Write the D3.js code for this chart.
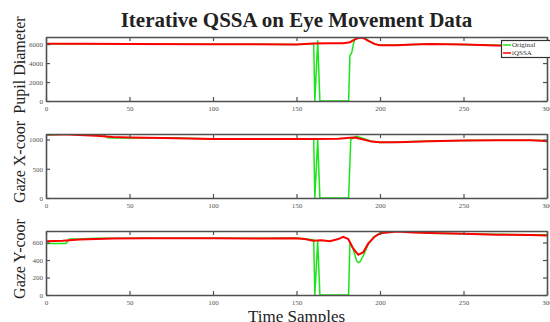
<!DOCTYPE html>
<html>
<head>
<meta charset="utf-8">
<script src="https://cdn.jsdelivr.net/npm/d3@7"></script>
<style>
  body { margin: 0; background: #fff; }
  svg { display: block; }
  .axis path, .axis line { stroke: #505050; }
  .axis text { fill: #555; }
  .Label { font-family: "Liberation Serif", serif; fill: #222; }
</style>
</head>
<body>
<div id="ChartContainer"></div>
<script>
// Pupil diameter
var pupilOrigT = [0, 30, 60, 100, 130, 150, 158, 160.3, 161, 162.7, 164, 181.2, 182, 183, 184.2, 185.5, 190, 193, 196, 200, 210, 230, 250, 270, 290, 300]
var pupilOrigV = [6040, 6020, 6010, 5980, 5980, 5970, 6050, 6050, 0, 6400, 0, 0, 4800, 5050, 6100, 6800, 6800, 6400, 6050, 5880, 5900, 6000, 5960, 5880, 5830, 5830]
var pupilQssaT = [0, 20, 50, 100, 150, 160, 170, 178, 182, 185, 188, 190, 193, 197, 200, 210, 220, 230, 240, 250, 260, 270, 280, 290, 300]
var pupilQssaV = [6040, 6030, 6010, 5980, 5970, 6060, 6090, 6100, 6200, 6500, 6680, 6650, 6350, 6000, 5880, 5880, 5950, 6000, 5990, 5950, 5900, 5850, 5830, 5820, 5830]

// Gaze X
var gazeXOrigT = [0, 10, 20, 34, 37, 40, 50, 60, 80, 100, 120, 150, 160.3, 161, 162.7, 164, 181.2, 182.5, 184, 186, 190, 195, 200, 210, 220, 230, 250, 270, 290, 297, 300]
var gazeXOrigV = [1080, 1090, 1090, 1090, 1030, 1025, 1025, 1030, 1025, 1010, 1010, 1005, 1010, 0, 1005, 0, 0, 1000, 1030, 1055, 1020, 970, 950, 955, 965, 975, 985, 990, 990, 985, 960]
var gazeXQssaT = [0, 10, 20, 30, 40, 50, 70, 100, 130, 160, 175, 182, 185, 190, 195, 200, 210, 230, 250, 270, 290, 300]
var gazeXQssaV = [1085, 1090, 1080, 1065, 1045, 1035, 1025, 1010, 1010, 1010, 1015, 1030, 1035, 1000, 965, 955, 955, 970, 985, 990, 990, 975]

// Gaze Y
var gazeYOrigT = [0, 12, 14, 20, 30, 50, 80, 100, 130, 150, 156, 160.3, 161, 162.7, 164, 181.2, 182, 184, 186, 187, 188, 190, 193, 196, 200, 205, 210, 215, 220, 230, 250, 270, 290, 300]
var gazeYOrigV = [590, 590, 640, 640, 648, 650, 648, 650, 648, 650, 640, 630, 0, 620, 0, 0, 600, 520, 390, 370, 380, 450, 580, 660, 710, 720, 735, 730, 720, 705, 700, 695, 690, 690]
var gazeYQssaT = [0, 10, 20, 40, 60, 100, 130, 150, 155, 160, 165, 170, 175, 178, 181, 184, 187, 190, 193, 197, 200, 210, 220, 230, 250, 270, 290, 300]
var gazeYQssaV = [615, 620, 635, 645, 650, 650, 645, 650, 640, 620, 625, 615, 640, 665, 640, 530, 460, 490, 590, 670, 705, 725, 715, 710, 700, 690, 685, 680]

var xTicks = [0, 50, 100, 150, 200, 250, 300]
var panelNames = ["Pupil Diameter", "Gaze X-coor", "Gaze Y-coor"]
var panelMax = [6750, 1095, 732]
var panelTicks = [[0, 2000, 4000, 6000], [0, 500, 1000], [0, 200, 400, 600]]
var seriesNames = ["Original", "iQSSA"]

var fullWidth = 550
var fullHeight = 322
var plotLeft = 46
var plotRight = 547
var panelTop = [37, 134, 231]
var panelHeight = 64
var colors = ["#19e619", "#ff0000"]
var tickFont = "Liberation Serif, serif"
var plainNum = d3.format("d")

var svg = d3.select("#ChartContainer").append("svg")
  .attr("width", fullWidth)
  .attr("height", fullHeight)

var x = d3.scaleLinear().domain([0, 300]).range([plotLeft, plotRight])

var panels = [
  [pupilOrigT, pupilOrigV, pupilQssaT, pupilQssaV],
  [gazeXOrigT, gazeXOrigV, gazeXQssaT, gazeXQssaV],
  [gazeYOrigT, gazeYOrigV, gazeYQssaT, gazeYQssaV],
]

panels.forEach((p, i) => {
  var top = panelTop[i]
  var bottom = top + panelHeight
  var y = d3.scaleLinear().domain([0, panelMax[i]]).range([bottom, top])

  svg.append("clipPath").attr("id", "clip" + i)
    .append("rect")
    .attr("x", plotLeft).attr("y", top)
    .attr("width", plotRight - plotLeft).attr("height", panelHeight)

  var line = d3.line().x(d => x(d[0])).y(d => y(d[1]))
  var g = svg.append("g").attr("clip-path", `url(#clip${i})`)

  // Original first, iQSSA drawn over it
  g.append("path")
    .attr("d", line(p[0].map((t, k) => [t, p[1][k]])))
    .attr("fill", "none").attr("stroke", colors[0]).attr("stroke-width", 1.5)
  g.append("path")
    .attr("d", line(p[2].map((t, k) => [t, p[3][k]])))
    .attr("fill", "none").attr("stroke", colors[1]).attr("stroke-width", 2)

  // box with inward ticks on every side
  svg.append("g").attr("class", "axis")
    .attr("transform", `translate(0,${bottom})`)
    .call(d3.axisBottom(x).tickValues(xTicks).tickFormat(plainNum).tickSize(-4).tickPadding(5.5).tickSizeOuter(0))
    .attr("font-family", tickFont).attr("font-size", 7)
  svg.append("g").attr("class", "axis")
    .attr("transform", `translate(0,${top})`)
    .call(d3.axisTop(x).tickValues(xTicks).tickSize(-4).tickFormat("").tickSizeOuter(0))
  svg.append("g").attr("class", "axis")
    .attr("transform", `translate(${plotLeft},0)`)
    .call(d3.axisLeft(y).tickValues(panelTicks[i]).tickFormat(plainNum).tickSize(-4).tickPadding(3).tickSizeOuter(0))
    .attr("font-family", tickFont).attr("font-size", 7)
  svg.append("g").attr("class", "axis")
    .attr("transform", `translate(${plotRight},0)`)
    .call(d3.axisRight(y).tickValues(panelTicks[i]).tickSize(-4).tickFormat("").tickSizeOuter(0))
  svg.selectAll(".axis path").attr("stroke-width", 1.6)
  svg.selectAll(".axis line").attr("stroke-width", 1.2)

  // y-axis label
  svg.append("text")
    .attr("class", "Label")
    .attr("transform", `translate(25,${top + panelHeight / 2 - 4}) rotate(-90)`)
    .attr("text-anchor", "middle")
    .attr("font-size", "16px")
    .text(panelNames[i])
})

// Chart title
svg.append("text")
  .attr("class", "Label")
  .attr("x", (plotLeft + plotRight) / 2)
  .attr("y", 27)
  .attr("text-anchor", "middle")
  .attr("font-size", "21px")
  .attr("font-weight", "bold")
  .attr("fill", "#111")
  .text("Iterative QSSA on Eye Movement Data")

// x-axis label
svg.append("text")
  .attr("class", "Label")
  .attr("x", (plotLeft + plotRight) / 2)
  .attr("y", 322)
  .attr("text-anchor", "middle")
  .attr("font-size", "17px")
  .text("Time Samples")

// Legend
var legend = svg.append("g")
legend.append("rect")
  .attr("x", 501.5).attr("y", 40.5)
  .attr("width", 50).attr("height", 17)
  .attr("fill", "#fff").attr("stroke", "#333").attr("stroke-width", 1.2)
seriesNames.forEach((name, k) => {
  var ly = 45 + k * 8
  legend.append("line")
    .attr("x1", 503).attr("x2", 511).attr("y1", ly).attr("y2", ly)
    .attr("stroke", colors[k]).attr("stroke-width", 1.5)
  legend.append("text")
    .attr("x", 512).attr("y", ly)
    .attr("dominant-baseline", "middle")
    .attr("font-family", tickFont)
    .attr("font-size", "7px")
    .attr("fill", "#333")
    .text(name)
})
</script>
</body>
</html>
